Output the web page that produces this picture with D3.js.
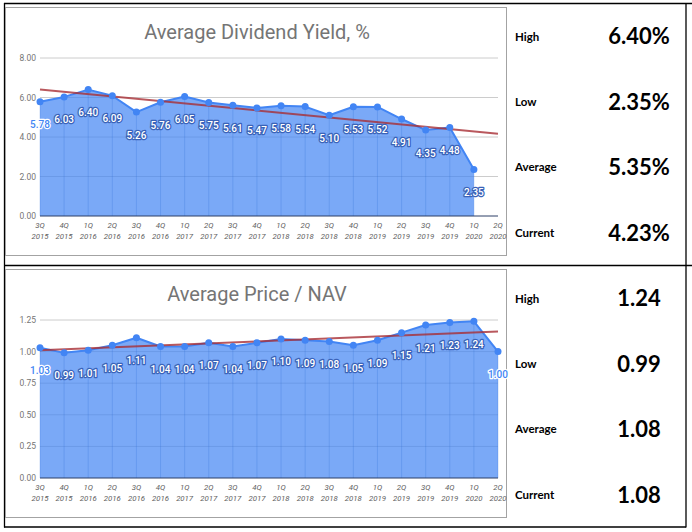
<!DOCTYPE html>
<html>
<head>
<meta charset="utf-8">
<script src="https://cdn.jsdelivr.net/npm/d3@7"></script>
<style>
  html, body { margin: 0; padding: 0; background: #fff; }
  svg { display: block; }
</style>
</head>
<body>
<svg id="chart" width="692" height="532"></svg>
<script>
// Quarterly figures
const quarters = ['3Q 2015', '4Q 2015', '1Q 2016', '2Q 2016', '3Q 2016', '4Q 2016', '1Q 2017', '2Q 2017',
  '3Q 2017', '4Q 2017', '1Q 2018', '2Q 2018', '3Q 2018', '4Q 2018', '1Q 2019', '2Q 2019',
  '3Q 2019', '4Q 2019', '1Q 2020', '2Q 2020'];

const yieldValues = [5.78, 6.03, 6.40, 6.09, 5.26, 5.76, 6.05, 5.75, 5.61, 5.47, 5.58, 5.54,
  5.10, 5.53, 5.52, 4.91, 4.35, 4.48, 2.35, null];
const navValues = [1.03, 0.99, 1.01, 1.05, 1.11, 1.04, 1.04, 1.07, 1.04, 1.07, 1.10, 1.09,
  1.08, 1.05, 1.09, 1.15, 1.21, 1.23, 1.24, 1.00];

// trendline ends (first and last quarter)
const yieldTrend = [6.41, 4.16];
const navTrend = [1.01, 1.16];

const yieldTicks = [0, 2, 4, 6, 8];
const navTicks = [0, 0.25, 0.5, 0.75, 1, 1.25];

const statLabels = ['High', 'Low', 'Average', 'Current'];
const yieldStats = ['6.40%', '2.35%', '5.35%', '4.23%'];
const navStats = ['1.24', '0.99', '1.08', '1.08'];

const BLUE = '#4285f4';
const svg = d3.select('#chart');

// ── Table lines ──
const lines = svg.append('g').attr('stroke', '#000').attr('stroke-width', 1.3);
lines.append('line').attr('x1', 4).attr('x2', 692).attr('y1', 3.5).attr('y2', 3.5);
lines.append('line').attr('x1', 4).attr('x2', 692).attr('y1', 265.5).attr('y2', 265.5);
lines.append('line').attr('x1', 4).attr('x2', 686).attr('y1', 527).attr('y2', 527);
lines.append('line').attr('x1', 4.5).attr('x2', 4.5).attr('y1', 3).attr('y2', 527.5);
lines.append('line').attr('x1', 686).attr('x2', 686).attr('y1', 3).attr('y2', 527.5);

const x = d3.scalePoint().domain(quarters).range([40, 498]).padding(0);

function drawPanel(cfg) {
  const g = svg.append('g').attr('transform', `translate(0,${cfg.offset})`);

  // chart frame
  g.append('rect')
    .attr('x', 5.5).attr('y', 7.5)
    .attr('width', 501).attr('height', 248)
    .attr('fill', '#fff')
    .attr('stroke', '#a3a3a3')
    .attr('stroke-width', 1);

  g.append('text')
    .attr('x', 257).attr('y', 39)
    .attr('text-anchor', 'middle')
    .attr('font-family', 'Roboto, sans-serif')
    .attr('font-size', '20px')
    .attr('fill', '#757575')
    .text(cfg.title);

  const y = d3.scaleLinear().domain(cfg.domain).range([216, 58]);

  // Grid
  g.append('g')
    .selectAll('line')
    .data(cfg.ticks.slice(1))
    .enter()
    .append('line')
    .attr('x1', 40).attr('x2', 498)
    .attr('y1', d => y(d)).attr('y2', d => y(d))
    .attr('stroke', '#cccccc')
    .attr('stroke-width', 1);

  // Y labels
  g.append('g')
    .selectAll('text')
    .data(cfg.ticks)
    .enter()
    .append('text')
    .attr('x', 36).attr('y', d => y(d) + 3)
    .attr('text-anchor', 'end')
    .attr('font-family', 'Roboto, sans-serif')
    .attr('font-size', '8.5px')
    .attr('fill', '#757575')
    .text(d => d.toFixed(2));

  const pts = quarters.map((q, i) => ({ q, value: cfg.values[i] })).filter(d => d.value !== null);

  // Area
  const area = d3.area()
    .x(d => x(d.q))
    .y0(y(0))
    .y1(d => y(d.value));

  g.append('path')
    .datum(pts)
    .attr('fill', BLUE)
    .attr('fill-opacity', 0.7)
    .attr('d', area);

  // faint drop lines
  g.append('g')
    .selectAll('line')
    .data(pts)
    .enter()
    .append('line')
    .attr('x1', d => x(d.q)).attr('x2', d => x(d.q))
    .attr('y1', d => y(d.value)).attr('y2', y(0))
    .attr('stroke', '#2f6fd8')
    .attr('stroke-opacity', 0.25)
    .attr('stroke-width', 1);

  // baseline
  g.append('line')
    .attr('x1', 40).attr('x2', 498)
    .attr('y1', y(0)).attr('y2', y(0))
    .attr('stroke', '#2d3f66')
    .attr('stroke-width', 1);

  // X labels
  const xl = g.append('g')
    .selectAll('text')
    .data(quarters)
    .enter()
    .append('text')
    .attr('text-anchor', 'middle')
    .attr('font-family', 'Roboto, sans-serif')
    .attr('font-style', 'italic')
    .attr('font-size', '7.8px')
    .attr('fill', '#616161');
  xl.append('tspan').attr('x', d => x(d)).attr('y', y(0) + 12.3).text(d => d.split(' ')[0]);
  xl.append('tspan').attr('x', d => x(d)).attr('y', y(0) + 22.5).text(d => d.split(' ')[1]);

  // Line
  const line = d3.line().x(d => x(d.q)).y(d => y(d.value));
  g.append('path')
    .datum(pts)
    .attr('fill', 'none')
    .attr('stroke', BLUE)
    .attr('stroke-width', 2)
    .attr('stroke-linejoin', 'round')
    .attr('d', line);

  // Trend
  g.append('line')
    .attr('x1', x(quarters[0])).attr('x2', x(quarters[quarters.length - 1]))
    .attr('y1', y(cfg.trend[0])).attr('y2', y(cfg.trend[1]))
    .attr('stroke', '#a82e35')
    .attr('stroke-opacity', 0.8)
    .attr('stroke-width', 2);

  // Points
  g.append('g')
    .selectAll('circle')
    .data(pts)
    .enter()
    .append('circle')
    .attr('cx', d => x(d.q))
    .attr('cy', d => y(d.value))
    .attr('r', 3.5)
    .attr('fill', BLUE);

  // Data labels
  const edge = d => d.q === quarters[0] || d.q === quarters[quarters.length - 1];
  g.append('g')
    .selectAll('text')
    .data(pts)
    .enter()
    .append('text')
    .attr('x', d => x(d.q))
    .attr('y', d => y(d.value) + 26.5)
    .attr('text-anchor', 'middle')
    .attr('font-family', 'Roboto, sans-serif')
    .attr('font-size', '10px')
    .attr('font-weight', 500)
    .attr('paint-order', 'stroke')
    .attr('stroke-linejoin', 'round')
    .attr('stroke-width', 2.5)
    .attr('fill', d => edge(d) ? BLUE : '#fff')
    .attr('stroke', d => edge(d) ? '#fff' : '#3a63b8')
    .text(d => d.value.toFixed(2));

  // Stats column
  const rowY = [36.3, 102, 167, 232.6];
  const st = g.append('g');
  st.selectAll('.lbl')
    .data(statLabels)
    .enter()
    .append('text')
    .attr('x', 515)
    .attr('y', (d, i) => rowY[i] + 4.2)
    .attr('font-family', 'Lato, "Open Sans", sans-serif')
    .attr('font-weight', 700)
    .attr('font-size', '11.5px')
    .attr('fill', '#000')
    .text(d => d);
  st.selectAll('.val')
    .data(cfg.stats)
    .enter()
    .append('text')
    .attr('x', 639)
    .attr('y', (d, i) => rowY[i] + 8)
    .attr('text-anchor', 'middle')
    .attr('font-family', 'Lato, "Open Sans", sans-serif')
    .attr('font-weight', 700)
    .attr('font-size', '22px')
    .attr('fill', '#000')
    .text(d => d);
}

drawPanel({ offset: 0, title: 'Average Dividend Yield, %', values: yieldValues, trend: yieldTrend,
  domain: [0, 8], ticks: yieldTicks, stats: yieldStats });
drawPanel({ offset: 262, title: 'Average Price / NAV', values: navValues, trend: navTrend,
  domain: [0, 1.25], ticks: navTicks, stats: navStats });
</script>
</body>
</html>
